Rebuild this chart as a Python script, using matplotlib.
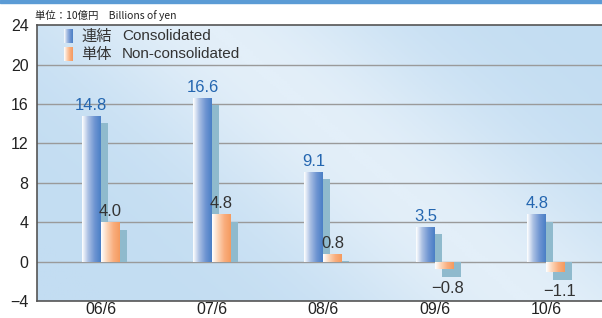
import numpy as np
import matplotlib
matplotlib.use('Agg')
import matplotlib.pyplot as plt
from matplotlib.colors import LinearSegmentedColormap

plt.rcParams['font.family'] = ['Liberation Sans', 'Noto Sans CJK JP', 'DejaVu Sans']

# data (10億円)
periods = ['06/6', '07/6', '08/6', '09/6', '10/6']
consolidated = [14.8, 16.6, 9.1, 3.5, 4.8]
non_consolidated = [4.0, 4.8, 0.8, -0.8, -1.1]
yticks = [-4, 0, 4, 8, 12, 16, 20, 24]

W = 0.17      # bar width
DX = 0.063    # shadow shift
DY = 0.75     # shadow drop
blue_cm = LinearSegmentedColormap.from_list('b', ['#ffffff', '#a9bfe3', '#6f95d2', '#4a7fc6'])
orange_cm = LinearSegmentedColormap.from_list('o', ['#ffffff', '#fcd3b5', '#f9ad7c', '#f59a60'])
shadow_col = '#8fbacd'

fig = plt.figure(figsize=(6.02, 3.18), dpi=100)
ax = fig.add_axes([0.0615, 0.0535, 0.9385, 0.8675])

# background gradient
xx, yy = np.meshgrid(np.linspace(0, 1, 200), np.linspace(0, 1, 120))
d = xx * 0.9 + yy * 0.5
band = np.exp(-((d - 0.78) / 0.28) ** 2)
bg_cm = LinearSegmentedColormap.from_list('bg', ['#c3ddf2', '#e3eff9'])
ax.imshow(band, cmap=bg_cm, extent=[0, 1, 0, 1], transform=ax.transAxes,
          aspect='auto', origin='lower', zorder=0, vmin=0, vmax=1)

for y in yticks[1:-1]:
    ax.axhline(y, color='#9a9a9a', lw=1, zorder=1)

grad = np.linspace(0, 1, 64).reshape(1, -1)


def grad_bar(x, v, cmap):
    bars = ax.bar(x, v, W, color='none', zorder=3)
    im = ax.imshow(grad, cmap=cmap, extent=[x - W / 2, x + W / 2, min(0, v), max(0, v)],
                   aspect='auto', zorder=3)
    im.set_clip_path(bars[0])


for i, (c, n) in enumerate(zip(consolidated, non_consolidated)):
    xb = i - W / 2
    xo = i + W / 2
    ax.bar(xb + DX, c - DY, W, color=shadow_col, zorder=2)
    ax.bar(xo + DX, n - DY, W, color=shadow_col, zorder=2)
    grad_bar(xb, c, blue_cm)
    grad_bar(xo, n, orange_cm)
    ax.text(xb, c + 0.3, f'{c:.1f}', ha='center', va='bottom', color='#2466b0', fontsize=12, zorder=5)
    if n >= 0:
        ax.text(xo, n + 0.3, f'{n:.1f}', ha='center', va='bottom', color='#333333', fontsize=12, zorder=5)
    else:
        ax.text(xo + DX / 2, n - DY - 0.4, f'\u2212{abs(n):.1f}', ha='center', va='top',
                color='#333333', fontsize=12, zorder=5)

ax.set_xlim(-0.57, 4.5)
ax.set_ylim(-4, 24)
ax.set_xticks(range(len(periods)))
ax.set_xticklabels(periods, fontsize=11.5)
ax.set_yticks(yticks)
ax.set_yticklabels([str(t).replace('-', '\u2212') for t in yticks], fontsize=11.5)
ax.tick_params(length=0, colors='#222222')
ax.tick_params(axis='x', pad=1)
ax.tick_params(axis='y', pad=6)
for s in ['left', 'bottom', 'top']:
    ax.spines[s].set_color('#555555')
    ax.spines[s].set_linewidth(1.2)
ax.spines['right'].set_visible(False)

# legend
for k, (jp, en, cm) in enumerate([('連結', 'Consolidated', blue_cm), ('単体', 'Non-consolidated', orange_cm)]):
    y0 = 0.96 - k * 0.065
    ax.imshow(grad, cmap=cm, extent=[0.047, 0.062, y0 - 0.024, y0 + 0.024],
              transform=ax.transAxes, aspect='auto', zorder=6)
    ax.text(0.078, y0, jp, transform=ax.transAxes, va='center', fontsize=11,
            family=['Noto Sans CJK JP'], color='#333333', zorder=6)
    ax.text(0.150, y0, en, transform=ax.transAxes, va='center', fontsize=11, color='#333333', zorder=6)

fig.text(0.058, 0.952, '単位：10億円　Billions of yen', fontsize=7.5, va='center',
         family=['Noto Sans CJK JP'], color='#222222')
fig.patches.append(plt.Rectangle((0, 0.99), 1, 0.01, transform=fig.transFigure,
                                 color='#5b9bd5', zorder=0))

fig.savefig('out.png', dpi=100)
